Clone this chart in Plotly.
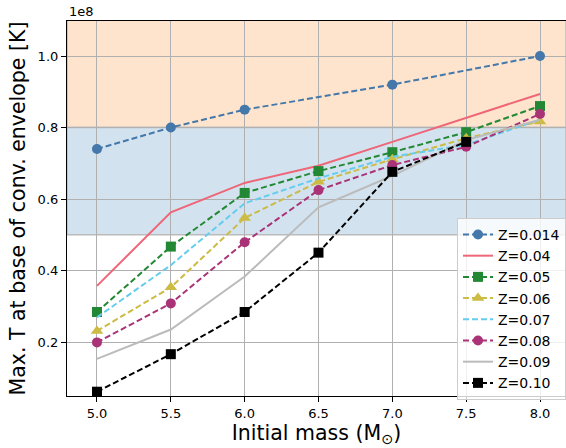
import plotly.graph_objects as go

masses = [5.0, 5.5, 6.0, 6.5, 7.0, 7.5, 8.0]
masses_z014 = [5.0, 5.5, 6.0, 7.0, 8.0]
masses_z010 = [5.0, 5.5, 6.0, 6.5, 7.0, 7.5]

t_z014 = [0.74e8, 0.80e8, 0.85e8, 0.92e8, 1.00e8]
t_z04 = [0.357e8, 0.563e8, 0.645e8, 0.693e8, 0.760e8, 0.826e8, 0.894e8]
t_z05 = [0.284e8, 0.467e8, 0.617e8, 0.678e8, 0.731e8, 0.787e8, 0.860e8]
t_z06 = [0.231e8, 0.353e8, 0.547e8, 0.648e8, 0.711e8, 0.770e8, 0.817e8]
t_z07 = [0.269e8, 0.415e8, 0.588e8, 0.658e8, 0.718e8, 0.752e8, 0.822e8]
t_z08 = [0.199e8, 0.308e8, 0.479e8, 0.625e8, 0.695e8, 0.746e8, 0.838e8]
t_z09 = [0.153e8, 0.235e8, 0.383e8, 0.577e8, 0.665e8, 0.765e8, 0.822e8]
t_z10 = [0.061e8, 0.166e8, 0.284e8, 0.450e8, 0.676e8, 0.760e8]

y_tickvals = [0.2e8, 0.4e8, 0.6e8, 0.8e8, 1.0e8]
y_ticktext = ["0.2", "0.4", "0.6", "0.8", "1.0"]
x_tickvals = [5.0, 5.5, 6.0, 6.5, 7.0, 7.5, 8.0]
x_ticktext = ["5.0", "5.5", "6.0", "6.5", "7.0", "7.5", "8.0"]

band_blue = (0.5e8, 0.8e8)
band_orange = (0.8e8, 1.1e8)

DASH = "6px,3px"
series = [
    ("Z=0.014", masses_z014, t_z014, "#4477AA", DASH, "circle"),
    ("Z=0.04", masses, t_z04, "#EE6677", "solid", None),
    ("Z=0.05", masses, t_z05, "#228833", DASH, "square"),
    ("Z=0.06", masses, t_z06, "#CCBB44", DASH, "triangle-up"),
    ("Z=0.07", masses, t_z07, "#66CCEE", DASH, None),
    ("Z=0.08", masses, t_z08, "#AA3377", DASH, "circle"),
    ("Z=0.09", masses, t_z09, "#BBBBBB", "solid", None),
    ("Z=0.10", masses_z010, t_z10, "#000000", DASH, "square"),
]

fig = go.Figure()
for name, xs, ys, color, dash, sym in series:
    if sym:
        fig.add_trace(go.Scatter(
            x=xs, y=ys, name=name, mode="lines+markers",
            line=dict(color=color, width=2, dash=dash),
            marker=dict(symbol=sym, size=10 if sym != "triangle-up" else 11, color=color),
        ))
    else:
        fig.add_trace(go.Scatter(
            x=xs, y=ys, name=name, mode="lines",
            line=dict(color=color, width=2, dash=dash),
        ))

fig.add_hrect(y0=band_orange[0], y1=band_orange[1], fillcolor="#FEE4CC",
              line=dict(color="#BBBBBB", width=1.5), layer="below")
fig.add_hrect(y0=band_blue[0], y1=band_blue[1], fillcolor="#D2E3EF",
              line=dict(color="#BBBBBB", width=1.5), layer="below")

fig.update_layout(
    width=566, height=448,
    margin=dict(l=67, r=0, t=21, b=52),
    paper_bgcolor="white", plot_bgcolor="white",
    font=dict(family="DejaVu Sans", color="#000000", size=13),
    showlegend=True,
    legend=dict(
        x=1.0, y=0.475, xanchor="right", yanchor="top",
        bgcolor="rgba(255,255,255,0.8)", bordercolor="#CCCCCC", borderwidth=1,
        font=dict(size=14, family="DejaVu Sans"),
        tracegroupgap=0,
    ),
    annotations=[dict(
        text="1e8", xref="paper", yref="paper", x=0.0, y=1.0,
        xanchor="left", yanchor="bottom", showarrow=False,
        font=dict(size=13, family="DejaVu Sans"), yshift=0,
    )],
)

fig.update_xaxes(
    range=[4.797, 8.176], tickvals=x_tickvals, ticktext=x_ticktext,
    showgrid=True, gridcolor="#B0B0B0", gridwidth=1,
    showline=True, linecolor="black", linewidth=1.2, mirror=True,
    ticks="outside", ticklen=5, tickcolor="black", zeroline=False,
    title=dict(text="Initial mass (M<sub>⊙</sub>)", font=dict(size=20.5), standoff=2),
    tickfont=dict(size=13),
)
fig.update_yaxes(
    range=[0.049e8, 1.098e8], tickvals=y_tickvals, ticktext=y_ticktext,
    showgrid=True, gridcolor="#B0B0B0", gridwidth=1,
    showline=True, linecolor="black", linewidth=1.2, mirror=True,
    ticks="outside", ticklen=5, tickcolor="black", zeroline=False,
    title=dict(text="Max. T at base of conv. envelope [K]", font=dict(size=20.5), standoff=6),
    tickfont=dict(size=13),
)

fig.write_html("out.html")
